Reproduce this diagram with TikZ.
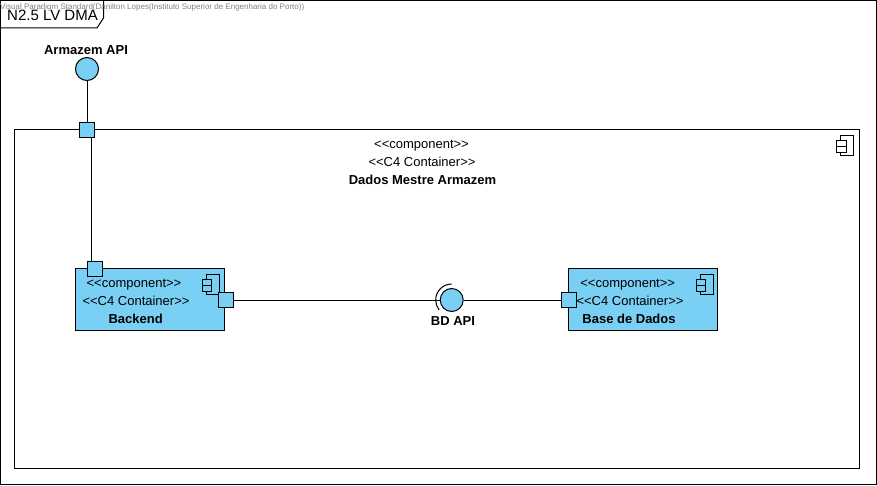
\documentclass[tikz,border=0pt]{standalone}
\usepackage{fontspec}
\setmainfont{Liberation Sans}
\definecolor{compblue}{RGB}{122,207,245}
\newcommand{\stereo}[1]{{<}{<}#1{>}{>}}
\newcommand{\compicon}[3]{%
  \draw[line width=1pt] (#1+4,#2) rectangle (#1+17,#2+20);
  \draw[line width=1pt,fill=#3] (#1,#2+5) rectangle (#1+9.5,#2+11);
  \draw[line width=1pt,fill=#3] (#1,#2+11) rectangle (#1+9.5,#2+17);
}
\tikzset{
  comp/.style={rectangle,draw=black,line width=1pt,fill=compblue,inner sep=0pt},
  port/.style={rectangle,draw=black,line width=1pt,fill=compblue,inner sep=0pt,minimum size=15pt},
  iface/.style={circle,draw=black,line width=1pt,fill=compblue,inner sep=0pt,minimum size=23pt},
  lbl/.style={font=\fontsize{13}{15}\selectfont,inner sep=0pt,anchor=base},
  blbl/.style={font=\fontsize{13}{15}\selectfont\bfseries,inner sep=0pt,anchor=base}
}

\begin{document}
\begin{tikzpicture}[x=1pt,y=-1pt]
  \useasboundingbox (0,0) rectangle (877,486);

  % frame
  \draw[line width=1pt] (0.5,0.5) rectangle (876,484);
  \draw[line width=1pt] (0.5,28) -- (97,28) -- (103.5,18) -- (103.5,0.5);
  \node[lbl,font=\fontsize{15}{17}\selectfont] (frameName) at (52.5,20.5) {N2.5 LV DMA};
  \node[inner sep=0pt,text=black!50,font=\fontsize{8}{9}\selectfont,anchor=west] (vpMark) at (0,7) {Visual Paradigm Standard(Danilton Lopes(Instituto Superior de Engenharia do Porto))};

  % main container
  \node[draw=black,line width=1pt,rectangle,inner sep=0pt,minimum width=844.5pt,minimum height=338pt] (dadosMestre) at (436.75,299) {};
  \node[lbl] (dadosStereoA) at (421.5,149) {\stereo{component}};
  \node[lbl] (dadosStereoB) at (422,167) {\stereo{C4 Container}};
  \node[blbl] (dadosName) at (422.5,185) {Dados Mestre Armazem};
  \compicon{836.7}{135.7}{white}

  % inner components
  \node[comp,minimum width=149.5pt,minimum height=62pt] (backend) at (150,299.3) {};
  \node[comp,minimum width=148.5pt,minimum height=62pt] (baseDados) at (643,299.5) {};
  \compicon{202.3}{274.3}{compblue}
  \compicon{696}{274.3}{compblue}

  \node[lbl] (backendStereoA) at (134,287) {\stereo{component}};
  \node[lbl] (backendStereoB) at (136,305) {\stereo{C4 Container}};
  \node[blbl] (backendName) at (135.7,323) {Backend};
  \node[lbl] (baseStereoA) at (627.7,287) {\stereo{component}};
  \node[lbl] (baseStereoB) at (630,305) {\stereo{C4 Container}};
  \node[blbl] (baseName) at (629,323) {Base de Dados};

  % ports and interfaces
  \node[iface] (armazemApi) at (87,69) {};
  \node[blbl] (armazemLabel) at (86,55) {Armazem API};
  \node[port] (dadosPort) at (87,130.5) {};
  \node[port] (backendTop) at (95,268.8) {};
  \node[port] (backendPort) at (225.8,300) {};
  \node[iface] (bdApi) at (451.7,300) {};
  \node[blbl] (bdLabel) at (453,325.5) {BD API};
  \node[port] (basePort) at (569,300) {};
  \draw[line width=1pt] (451.7,284) arc[start angle=90,end angle=218,radius=16pt];

  % connectors
  \begin{scope}[line width=1pt]
    \draw (armazemApi) -- (dadosPort);
    \draw ([xshift=4pt]dadosPort.south) -- ([xshift=-4pt]backendTop.north);
    \draw (backendPort) -- (bdApi);
    \draw (bdApi) -- (basePort);
  \end{scope}

\end{tikzpicture}
\end{document}
